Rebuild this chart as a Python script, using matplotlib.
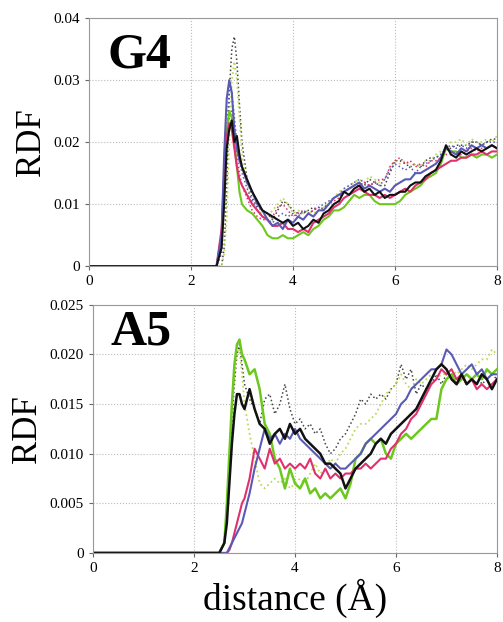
import numpy as np
import matplotlib
matplotlib.use('Agg')
import matplotlib.pyplot as plt

plt.rcParams['font.family'] = ['Liberation Serif', 'DejaVu Serif']

# distancias (Angstrom)
dist = [0, 2.4, 2.5, 2.6, 2.65, 2.7, 2.75, 2.8, 2.85, 2.9, 2.95, 3.0,
        3.1, 3.2, 3.3, 3.4, 3.5, 3.6, 3.7, 3.8, 3.9, 4.0,
        4.1, 4.2, 4.3, 4.4, 4.5, 4.6, 4.7, 4.8, 4.9, 5.0,
        5.1, 5.2, 5.3, 5.4, 5.5, 5.6, 5.7, 5.8, 5.9, 6.0,
        6.1, 6.2, 6.3, 6.4, 6.5, 6.6, 6.7, 6.8, 6.9, 7.0,
        7.1, 7.2, 7.3, 7.4, 7.5, 7.6, 7.7, 7.8, 7.9, 8.0]

# G4 (valores em 1e-3)
g4_black = [0, 0, 0, 3, 10, 19, 22, 23.5, 20, 21, 18, 16,
            14, 12, 10.5, 9, 8.5, 8, 7.5, 7, 7.5, 6.5,
            7, 6, 6.5, 7.5, 7, 8.5, 9, 10, 10.5, 12,
            11.5, 12.5, 13, 12, 12.5, 11.5, 12, 11, 11.5, 11.5,
            12, 12, 13, 13.5, 13.5, 14.5, 15, 15.5, 17, 19.5,
            18, 17.5, 18.5, 18, 18.5, 19, 18.5, 19, 19.5, 19]
g4_blue = [0, 0, 0, 5, 18, 27, 30, 28, 22, 19, 17, 16,
           13.5, 12, 10, 9, 7.5, 6.5, 7, 6, 7.5, 7,
           8, 7.5, 8.5, 8, 9, 9, 10, 11, 11.5, 12,
           12.5, 13, 13.5, 12.5, 13, 12.5, 12, 12.5, 12, 13,
           13.5, 14, 14, 15, 15, 15.5, 16, 16.5, 17.5, 19,
           18.5, 18, 19, 18.5, 19.5, 19, 19.5, 19, 19.5, 19]
g4_red = [0, 0, 0, 6, 15, 21, 23, 22, 19, 16, 14, 13,
          11.5, 10, 9, 8, 7.5, 6.5, 6.5, 7, 6, 6,
          5.5, 6, 5.5, 7, 7.5, 8, 8.5, 9.5, 10, 11,
          11.5, 12, 12.5, 12, 11.5, 11.5, 11, 11.5, 11, 11.5,
          12, 12.5, 12, 13, 13.5, 14, 15, 15.5, 16, 16.5,
          17, 17, 17.5, 17.5, 18, 18, 18.5, 18, 18.5, 18.5]
g4_green = [0, 0, 0, 4, 14, 22, 25, 24, 20, 16, 12, 10,
            9, 8.5, 7.5, 6.5, 5, 4.5, 4.5, 5, 4.5, 4.5,
            5, 5.5, 5, 6, 6.5, 7.5, 8, 9, 9, 9.5,
            10.5, 11.5, 11, 11.5, 11.5, 10.5, 10, 10, 10, 10,
            10.5, 11.5, 12, 12.5, 13, 14, 14.5, 15, 16.5, 19,
            18.5, 18.5, 17.5, 17.5, 18, 17.5, 18, 18, 17.5, 18]
g4_black_dot = [0, 0, 0, 0, 3, 12, 28, 35, 37, 33, 26, 20,
                14, 11, 9.5, 9, 8.5, 7.5, 9, 10.5, 10, 9,
                8.5, 8.5, 9, 9.5, 9, 9.5, 10, 11, 11.5, 12,
                12.5, 13, 13.5, 13, 14, 13.5, 13, 13, 15, 17,
                17, 16.5, 16, 16.5, 16, 17, 17.5, 17.5, 18, 19,
                19, 19.5, 19.5, 19.5, 20, 20, 19.5, 20, 20.5, 20.5]
g4_lime_dot = [0, 0, 0, 0, 2, 8, 20, 30, 33, 30, 24, 18,
               13, 10.5, 9, 8.5, 8, 9, 10, 11, 10, 8.5,
               9, 8.5, 9, 8.5, 9, 9.5, 10, 11, 12, 12.5,
               13, 13.5, 14, 13.5, 14.5, 14, 13.5, 14, 16, 17,
               16.5, 17, 16, 16.5, 16, 17, 17, 18, 18.5, 19,
               20, 20, 20.5, 19.5, 20.5, 20, 20, 20.5, 20, 21]
g4_blue_dot = [0, 0, 0, 2, 10, 22, 29, 28, 24, 20, 17, 15,
               12.5, 10.5, 9, 8, 7.5, 7, 8, 8.5, 8, 8.5,
               8, 9, 8.5, 9, 9.5, 10, 10.5, 11, 11.5, 12.5,
               13, 13.5, 14, 13.5, 13, 13.5, 13, 14, 15.5, 16.5,
               16, 15.5, 16, 15, 16, 16.5, 17, 17.5, 18, 19,
               19.5, 19, 19.5, 19, 20, 20, 19.5, 20, 20, 20]
g4_red_dot = [0, 0, 0, 3, 12, 20, 24, 25, 22, 18, 15, 13,
              11, 9, 8, 7.5, 7.5, 8, 9.5, 10, 9, 8,
              8.5, 9, 8.5, 9, 9.5, 9, 10, 10.5, 11, 12,
              12.5, 13, 13, 13.5, 13, 13.5, 14, 14, 16, 17,
              17.5, 16.5, 17, 16, 16.5, 16, 17, 17, 17.5, 18,
              18, 18.5, 18, 18.5, 19, 18.5, 19, 19, 19.5, 19]

# A5 (valores em 1e-3)
a5_black = [0, 0, 0, 1, 3, 7, 11, 14, 16, 16, 15, 14.5,
            16.5, 14.5, 13, 12.5, 11, 12, 12.5, 11.5, 13, 12,
            12.5, 11.5, 11, 10.5, 10, 9, 9, 8.5, 8, 6.5,
            7.5, 8.5, 9, 9.5, 10, 11, 11.5, 11, 12, 12.5,
            13, 13.5, 14, 14.5, 15.5, 16.5, 17.5, 18.5, 19, 18.5,
            17.5, 17, 18, 17, 17.5, 17, 18, 17.5, 16.5, 17.5]
a5_blue = [0, 0, 0, 0, 0, 0.5, 1, 1.5, 2, 2.5, 3, 4,
           6, 8.5, 10.5, 12.5, 11.5, 12, 11, 12, 11.5, 12.5,
           11.5, 11, 10.5, 10, 9.5, 9, 8.5, 9, 8.5, 8.5,
           9, 9.5, 10, 11, 11.5, 12, 12.5, 13, 13.5, 14,
           15, 15.5, 16.5, 17, 17.5, 18, 18.5, 18.5, 19, 20.5,
           20, 19, 18, 18.5, 19, 18, 18.5, 17.5, 18, 18]
a5_red = [0, 0, 0, 0, 0, 0.3, 1, 2, 3, 4, 5, 5.5,
          7.5, 10.5, 9.5, 8.5, 10.5, 9, 9.5, 8.5, 9, 8.5,
          9, 8.5, 9.5, 8, 7.5, 8.5, 7.5, 8, 7.5, 8,
          8, 8.5, 8.5, 9, 8.5, 9, 9.5, 9.5, 10.5, 11,
          12, 12.5, 13.5, 14, 15, 16, 17, 17.5, 18.5, 18,
          18.5, 17.5, 18, 17, 17.5, 16.5, 17, 16.5, 17, 17.5]
a5_green = [0, 0, 0, 1, 5, 10, 15, 19, 21, 21.5, 20, 19.5,
            18, 18.5, 16.5, 13, 12, 9.5, 8.5, 6.5, 8.5, 7,
            6.5, 7.5, 6, 6.5, 5.5, 6, 5.5, 6, 6.5, 5.5,
            7, 9.5, 10, 11, 11.5, 11, 11.5, 10, 9.5, 11,
            11.5, 12, 11.5, 12, 12.5, 13, 13.5, 13.5, 16.5, 17.5,
            18, 17, 17.5, 18, 17.5, 18, 17.5, 18.5, 18, 18.5]
a5_black_dot = [0, 0, 0, 1, 4, 8, 13, 17, 20, 21, 19, 17,
                15.5, 14.5, 13, 15.5, 16, 14, 15, 17, 14.5, 13,
                13.5, 12.5, 13, 12, 12.5, 11, 10, 10.5, 11.5, 12,
                13, 14, 15.5, 15, 16, 15.5, 16, 15.5, 16.5, 17,
                19, 17.5, 18.5, 16, 17, 16.5, 17, 18, 17, 18,
                17.5, 17, 18, 17, 17.5, 18, 17, 17.5, 18, 17.5]
a5_lime_dot = [0, 0, 0, 1, 4, 9, 14, 18, 20, 20.5, 18, 15,
               12, 9.5, 7, 6.5, 7, 7.5, 7, 7.5, 6.5, 7,
               7.5, 7, 8, 9, 8, 8.5, 9.5, 9, 10, 10.5,
               11.5, 12.5, 13, 13, 13.5, 14, 15, 16, 16.5, 17,
               18, 17, 16.5, 17.5, 17, 17.5, 18, 17.5, 18, 18,
               18.5, 18, 18.5, 19, 18.5, 19, 19.5, 19.5, 20.5, 20]

BLACK = '#111111'
BLUE = '#5a5ab4'
RED = '#e0306e'
GREEN = '#6cc81e'
GRAY_DOT = '#444444'
LIME_DOT = '#bcdc5a'

fig = plt.figure(figsize=(5.03, 6.22), dpi=100)
ax1 = fig.add_axes([0.177, 0.572, 0.811, 0.399])
ax2 = fig.add_axes([0.185, 0.111, 0.803, 0.399])

x = np.array(dist)

def plot_line(ax, vals, color, ls='-', lw=1.5):
    ax.plot(x, np.array(vals) * 1e-3, color=color, ls=ls, lw=lw)

# painel G4
plot_line(ax1, g4_black_dot, GRAY_DOT, ':', 1.1)
plot_line(ax1, g4_lime_dot, LIME_DOT, ':', 1.3)
plot_line(ax1, g4_blue_dot, BLUE, ':', 1.1)
plot_line(ax1, g4_red_dot, RED, ':', 1.1)
plot_line(ax1, g4_green, GREEN)
plot_line(ax1, g4_red, RED)
plot_line(ax1, g4_blue, BLUE)
plot_line(ax1, g4_black, BLACK)

# painel A5
plot_line(ax2, a5_black_dot, GRAY_DOT, ':', 1.1)
plot_line(ax2, a5_lime_dot, LIME_DOT, ':', 1.3)
plot_line(ax2, a5_green, GREEN, '-', 1.8)
plot_line(ax2, a5_red, RED)
plot_line(ax2, a5_blue, BLUE)
plot_line(ax2, a5_black, BLACK, '-', 1.8)

for ax in (ax1, ax2):
    ax.set_xlim(0, 8)
    ax.set_xticks([0, 2, 4, 6, 8])
    ax.grid(True, ls=':', color='#bbbbbb', lw=0.8)
    for s in ax.spines.values():
        s.set_color('#999999')
        s.set_linewidth(0.8)
    ax.tick_params(labelsize=11, length=3, color='#666666', width=0.8)
    ax.set_ylabel('RDF', fontsize=25, labelpad=4)

ax1.set_ylim(0, 0.04)
ax1.set_yticks([0, 0.01, 0.02, 0.03, 0.04])
ax1.set_yticklabels(['0', '0.01', '0.02', '0.03', '0.04'])
ax1.text(0.045, 0.80, 'G4', transform=ax1.transAxes, fontsize=36,
         fontweight='bold')

ax2.set_ylim(0, 0.025)
ax2.set_yticks([0, 0.005, 0.010, 0.015, 0.020, 0.025])
ax2.set_yticklabels(['0', '0.005', '0.010', '0.015', '0.020', '0.025'])
ax2.text(0.042, 0.84, 'A5', transform=ax2.transAxes, fontsize=36,
         fontweight='bold')
ax2.set_xlabel('distance (Å)', fontsize=27, labelpad=3)

fig.savefig('out.png', dpi=100)
